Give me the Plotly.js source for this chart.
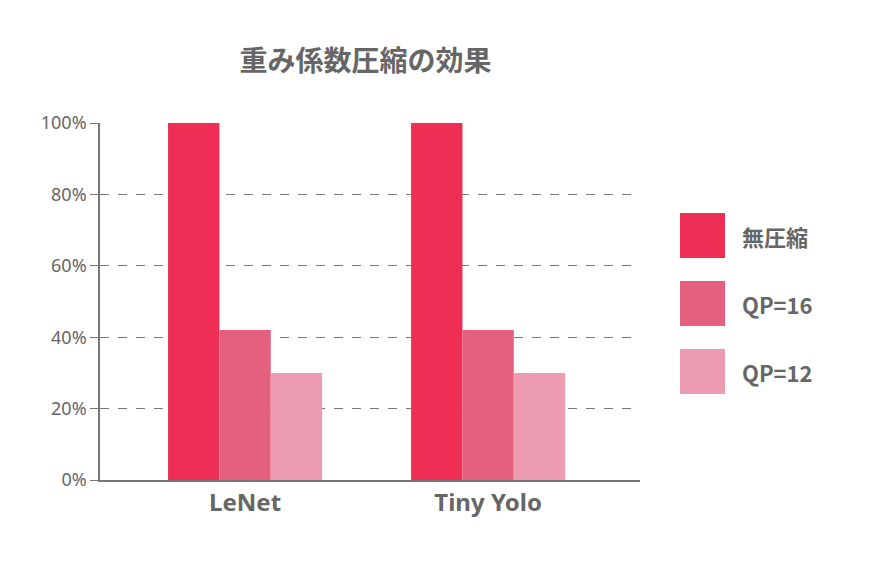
<!DOCTYPE html>
<html>
<head>
<meta charset="utf-8">
<script src="https://cdn.plot.ly/plotly-3.0.1.min.js"></script>
<style>body{margin:0;background:#fff}</style>
</head>
<body>
<div id="chart" style="width:870px;height:582px"></div>
<script>
// data
const categories = ["LeNet", "Tiny Yolo"];
const seriesNames = ["無圧縮", "QP=16", "QP=12"];
const seriesValues = [
  [100, 100],
  [42, 42],
  [30, 30]
];
const colors = ["#EE2E55", "#E5607F", "#EC9BB0"];
const yTicks = [0, 20, 40, 60, 80, 100];
const yTickText = ["0%", "20%", "40%", "60%", "80%", "100%"];

const traces = seriesNames.map((name, i) => ({
  type: "bar",
  x: categories,
  y: seriesValues[i],
  name: name,
  marker: { color: colors[i] },
  showlegend: false,
  hoverinfo: "skip"
}));

/* custom legend with big square swatches */
const toPx = (px) => (px - 100) / 540;
const toPy = (py) => (480 - py) / 357;
const shapes = [];
const annotations = [];
const legendTop = [213, 281, 349];
seriesNames.forEach((name, i) => {
  const top = legendTop[i];
  shapes.push({
    type: "rect", xref: "paper", yref: "paper",
    x0: toPx(680), x1: toPx(725), y0: toPy(top + 45), y1: toPy(top),
    fillcolor: colors[i], line: { width: 0 }
  });
  annotations.push({
    xref: "paper", yref: "paper", x: toPx(740), y: toPy(top + 23),
    xanchor: "left", yanchor: "middle", showarrow: false, text: name,
    font: { family: "Noto Sans CJK JP, Noto Sans", size: 22, color: "#666666", weight: "bold" }
  });
});

Plotly.newPlot("chart", traces, {
  width: 870, height: 582,
  margin: { l: 100, r: 230, t: 123, b: 102 },
  paper_bgcolor: "#ffffff",
  plot_bgcolor: "#ffffff",
  title: {
    text: "重み係数圧縮の効果",
    x: 0.42, xanchor: "center", y: 0.895, yanchor: "middle",
    font: { family: "Noto Sans CJK JP", size: 28, color: "#666666", weight: "bold" }
  },
  barmode: "group",
  bargap: 0.366,
  bargroupgap: 0,
  xaxis: {
    range: [-0.597, 1.625],
    showline: true, linecolor: "#777777", linewidth: 1.5,
    ticks: "", showgrid: false,
    tickfont: { family: "Noto Sans", size: 24, color: "#666666", weight: "bold" }
  },
  yaxis: {
    range: [0, 100],
    tickvals: yTicks, ticktext: yTickText,
    showline: true, linecolor: "#777777", linewidth: 1.5,
    gridcolor: "#777777", griddash: "dash", gridwidth: 1,
    zeroline: false,
    ticks: "outside", ticklen: 8, tickcolor: "#777777",
    tickfont: { family: "Noto Sans", size: 18, color: "#666666" }
  },
  shapes: shapes,
  annotations: annotations
}, { displayModeBar: false });
</script>
</body>
</html>
